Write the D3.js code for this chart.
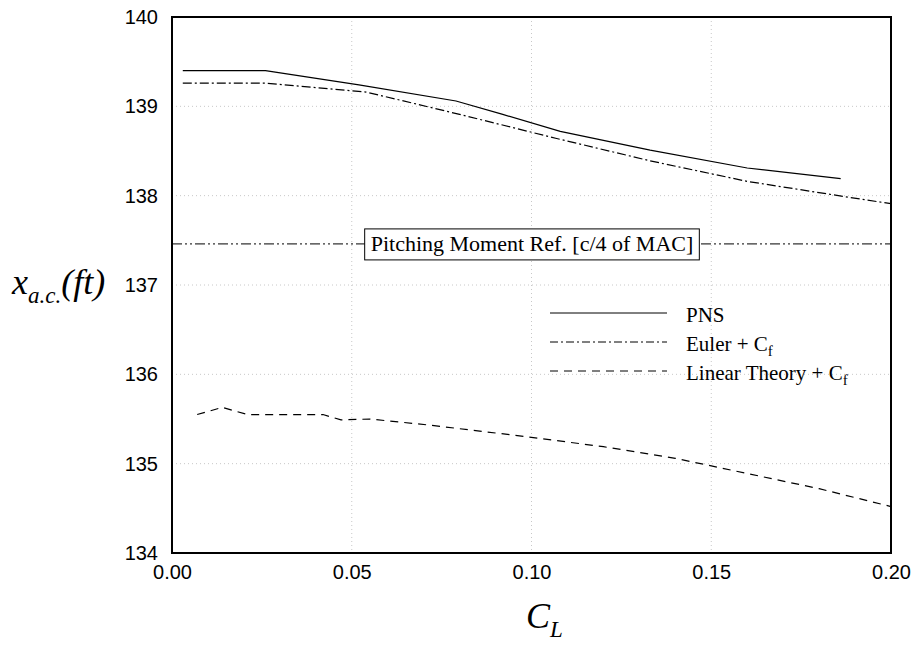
<!DOCTYPE html>
<html>
<head>
<meta charset="utf-8">
<title>x a.c. vs CL</title>
<script src="https://d3js.org/d3.v7.min.js"></script>
<style>
  body { margin: 0; background: #fff; }
  .tick text { font-family: "Liberation Sans", Arial, sans-serif; font-size: 20px; fill: #000; }
  .serif { font-family: "Liberation Serif", "Times New Roman", serif; }
</style>
</head>
<body>
<div id="chart"></div>
<script>
// data
var pnsCL   = [0.003, 0.026, 0.052, 0.079, 0.092, 0.108, 0.133, 0.160, 0.186];
var pnsX    = [139.40, 139.40, 139.24, 139.06, 138.91, 138.72, 138.51, 138.31, 138.19];

var eulerCL = [0.003, 0.026, 0.054, 0.080, 0.107, 0.133, 0.160, 0.187, 0.200];
var eulerX  = [139.26, 139.26, 139.16, 138.91, 138.64, 138.39, 138.16, 137.99, 137.91];

var linCL   = [0.007, 0.014, 0.021, 0.042, 0.047, 0.055, 0.072, 0.099, 0.120, 0.140, 0.160, 0.180, 0.200];
var linX    = [135.55, 135.63, 135.55, 135.55, 135.49, 135.50, 135.43, 135.30, 135.19, 135.06, 134.89, 134.72, 134.52];

var refX = 137.46;
var xTicks = [0, 0.05, 0.10, 0.15, 0.20];
var yTicks = [134, 135, 136, 137, 138, 139, 140];

var margin = {top: 17, right: 30, bottom: 99, left: 172},
    width = 921 - margin.left - margin.right,
    height = 652 - margin.top - margin.bottom;

var svg = d3.select("#chart")
  .append("svg")
    .attr("width", 921)
    .attr("height", 652)
  .append("g")
    .attr("transform", "translate(" + margin.left + "," + margin.top + ")");

var x = d3.scaleLinear().domain([0, 0.20]).range([0, width]);
var y = d3.scaleLinear().domain([134, 140]).range([height, 0]);

// grid
svg.selectAll(".vgrid")
  .data(xTicks.slice(1, -1))
  .enter().append("line")
    .attr("x1", d => x(d)).attr("x2", d => x(d))
    .attr("y1", 0).attr("y2", height)
    .attr("stroke", "#c8c8c8").attr("stroke-dasharray", "1,3");
svg.selectAll(".hgrid")
  .data(yTicks.slice(1, -1))
  .enter().append("line")
    .attr("y1", d => y(d)).attr("y2", d => y(d))
    .attr("x1", 0).attr("x2", width)
    .attr("stroke", "#c8c8c8").attr("stroke-dasharray", "1,3");

// axes (labels only)
var xa = svg.append("g")
  .attr("transform", "translate(0," + height + ")")
  .call(d3.axisBottom(x).tickValues(xTicks).tickFormat(d3.format(".2f")).tickSize(0).tickPadding(12));
xa.select(".domain").remove();
var ya = svg.append("g")
  .call(d3.axisLeft(y).tickValues(yTicks).tickFormat(d3.format("d")).tickSize(0).tickPadding(14));
ya.select(".domain").remove();

// clip
svg.append("clipPath").attr("id", "clip")
  .append("rect").attr("width", width).attr("height", height);

var line = d3.line()
  .x(d => x(d[0]))
  .y(d => y(d[1]));

var plot = svg.append("g").attr("clip-path", "url(#clip)");

// reference line
plot.append("line")
  .attr("x1", 0).attr("x2", width)
  .attr("y1", y(refX)).attr("y2", y(refX))
  .attr("stroke", "#000").attr("stroke-width", 1)
  .attr("stroke-dasharray", "10,3,2,3,2,3");

var series = [
  {name: "PNS", cl: pnsCL, xs: pnsX, dash: null},
  {name: "Euler", cl: eulerCL, xs: eulerX, dash: "9,3,2,3"},
  {name: "Linear", cl: linCL, xs: linX, dash: "8,6"}
];

series.forEach(function(s) {
  plot.append("path")
    .datum(d3.zip(s.cl, s.xs))
    .attr("fill", "none")
    .attr("stroke", "#000")
    .attr("stroke-width", 1.2)
    .attr("stroke-dasharray", s.dash)
    .attr("d", line);
});

// frame
svg.append("rect")
  .attr("width", width).attr("height", height)
  .attr("fill", "none").attr("stroke", "#000").attr("stroke-width", 2);

// reference label
var refLbl = svg.append("text")
  .attr("class", "serif")
  .attr("x", 360).attr("y", y(refX) + 7)
  .attr("text-anchor", "middle")
  .style("font-size", "22px")
  .text("Pitching Moment Ref. [c/4 of MAC]");
var bb = refLbl.node().getBBox();
svg.insert("rect", "text.serif")
  .attr("x", bb.x - 6).attr("y", y(refX) - 15)
  .attr("width", bb.width + 12).attr("height", 31)
  .attr("fill", "#fff").attr("stroke", "#000").attr("stroke-width", 1);

// legend
var legend = [
  {label: "PNS", sub: null, dash: null, ly: 296},
  {label: "Euler + C", sub: "f", dash: "8,3,2,3", ly: 325},
  {label: "Linear Theory + C", sub: "f", dash: "8,6", ly: 354}
];
legend.forEach(function(l) {
  svg.append("line")
    .attr("x1", 378).attr("x2", 495)
    .attr("y1", l.ly).attr("y2", l.ly)
    .attr("stroke", "#000").attr("stroke-width", 1)
    .attr("stroke-dasharray", l.dash);
  var t = svg.append("text")
    .attr("class", "serif")
    .attr("x", 514).attr("y", l.ly + 9)
    .style("font-size", "21px")
    .text(l.label);
  if (l.sub) {
    t.append("tspan").attr("dy", 5).style("font-size", "15px").text(l.sub);
  }
});

// axis titles
var yl = d3.select("svg").append("text")
  .attr("class", "serif")
  .attr("x", 12).attr("y", 294)
  .style("font-size", "36px").style("font-style", "italic");
yl.append("tspan").text("x");
yl.append("tspan").attr("dy", 9).style("font-size", "23px").text("a.c.");
yl.append("tspan").attr("dy", -9).text("(ft)");

var xl = d3.select("svg").append("text")
  .attr("class", "serif")
  .attr("x", 526).attr("y", 628)
  .style("font-size", "36px").style("font-style", "italic");
xl.append("tspan").text("C");
xl.append("tspan").attr("dy", 9).style("font-size", "23px").text("L");
</script>
</body>
</html>
